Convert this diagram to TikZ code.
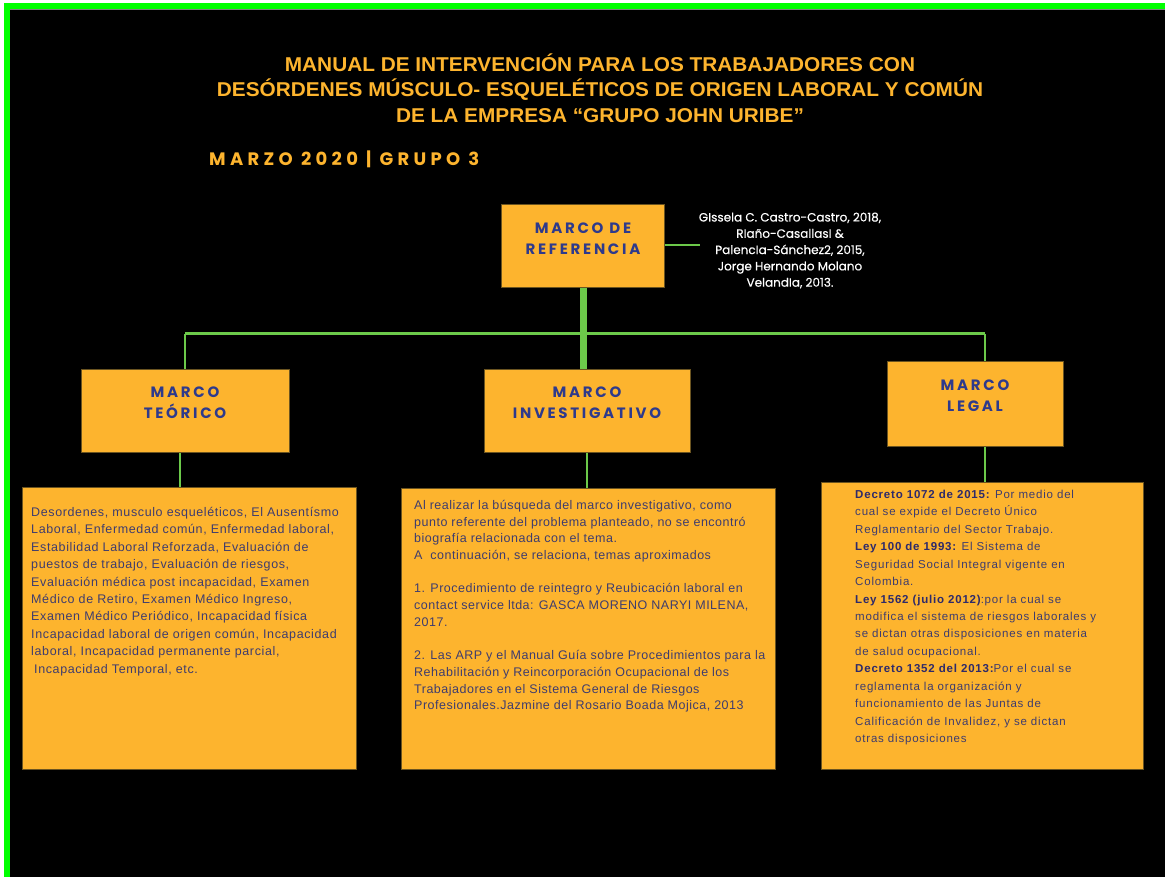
\documentclass[tikz,border=0pt]{standalone}
\usepackage{fontspec}
\setmainfont{Liberation Sans}
\newfontfamily\titlefont{Liberation Sans}[FakeStretch=1.04]
\newfontfamily\headfont{Poppins}[LetterSpace=18]
\newfontfamily\datefont{Poppins}[LetterSpace=24]
\newfontfamily\citefont{Poppins}[FakeBold=0.4]
\newfontfamily\bodyfont{Liberation Sans}[LetterSpace=5]
\newfontfamily\midfont{Liberation Sans}[LetterSpace=4]
\newfontfamily\legfont{Liberation Sans}[LetterSpace=7]
\definecolor{bgorange}{HTML}{FDB42E}
\definecolor{navy}{HTML}{2E3A8C}
\definecolor{bodytext}{HTML}{3E3C6E}
\definecolor{boldtext}{HTML}{2E2A6A}
\definecolor{linegreen}{HTML}{6CC94A}
\definecolor{brightgreen}{HTML}{00FF00}
\definecolor{boxedge}{HTML}{6B5420}
\tikzset{
  box/.style={draw=boxedge, line width=0.8pt, fill=bgorange, anchor=north west, inner sep=0pt},
  head/.style={font=\headfont\bfseries\fontsize{15}{21}\selectfont, text=navy, align=center, inner sep=0pt},
  body/.style={text=bodytext, align=left, anchor=north west, inner sep=0pt},
  conn/.style={draw=linegreen, line width=2.5pt},
}
\begin{document}
\begin{tikzpicture}[x=1pt,y=-1pt]
\useasboundingbox (0,0) rectangle (1165,877);
\fill[white] (0,0) rectangle (1165,877);
\fill[brightgreen] (4,3) rectangle (1165,877);
\fill[black] (10,9) rectangle (1165,877);
\draw[gray, line width=0.8pt] (10,9.2) -- (1165,9.2);
% title
\node[font=\titlefont\bfseries\fontsize{20}{25.5}\selectfont, text=bgorange, align=center, inner sep=0pt] (title) at (600,88)
 {MANUAL DE INTERVENCIÓN PARA LOS TRABAJADORES CON\\
  DESÓRDENES MÚSCULO- ESQUELÉTICOS DE ORIGEN LABORAL Y COMÚN\\
  DE LA EMPRESA “GRUPO JOHN URIBE”};
\node[font=\datefont\bfseries\fontsize{18}{20}\selectfont, text=bgorange, anchor=west, inner sep=0pt] (date) at (209,159) {MARZO 2020 | GRUPO 3};
% boxes
\node[box, minimum width=163pt, minimum height=83pt] (ref) at (501,204) {};
\node[head] (reflab) at (583,238.5) {MARCO DE\\REFERENCIA};
\node[box, minimum width=208pt, minimum height=83pt] (teo) at (81,369) {};
\node[head] (teolab) at (185,402.5) {MARCO\\TEÓRICO};
\node[box, minimum width=206pt, minimum height=83pt] (inv) at (484,369) {};
\node[head] (invlab) at (587,402.5) {MARCO\\INVESTIGATIVO};
\node[box, minimum width=176pt, minimum height=85pt] (leg) at (887,361) {};
\node[head] (leglab) at (975,395.5) {MARCO\\LEGAL};
% citation
\coordinate (citeend) at (700,245);
\node[font=\citefont\fontsize{12}{16.3}\selectfont, text=white, align=center, inner sep=0pt] (cite) at (790,250.5)
 {GIssela C. Castro-Castro, 2018,\\RIaño-CasallasI \&\\PalencIa-Sánchez2, 2015,\\Jorge Hernando Molano\\VelandIa, 2013.};
% bottom boxes
\node[box, minimum width=334pt, minimum height=282pt] (teob) at (22,487) {};
\node[box, minimum width=374pt, minimum height=281pt] (invb) at (401,488) {};
\node[box, minimum width=322pt, minimum height=287pt] (legb) at (821,482) {};
\node[body, font=\bodyfont\fontsize{12.5}{17.4}\selectfont] (teotxt) at (31,507) {Desordenes, musculo esqueléticos, El Ausentísmo\\
Laboral, Enfermedad común, Enfermedad laboral,\\
Estabilidad Laboral Reforzada, Evaluación de\\
puestos de trabajo, Evaluación de riesgos,\\
Evaluación médica post incapacidad, Examen\\
Médico de Retiro, Examen Médico Ingreso,\\
Examen Médico Periódico, Incapacidad física\\
Incapacidad laboral de origen común, Incapacidad\\
laboral, Incapacidad permanente parcial,\\
\hspace*{3pt}Incapacidad Temporal, etc.};
\node[body, font=\midfont\fontsize{12.5}{16.7}\selectfont] (invtxt) at (414,500) {Al realizar la búsqueda del marco investigativo, como\\
punto referente del problema planteado, no se encontró\\
biografía relacionada con el tema.\\
A\ \ continuación, se relaciona, temas aproximados\\[16.7pt]
1. Procedimiento de reintegro y Reubicación laboral en\\
contact service ltda: GASCA MORENO NARYI MILENA,\\
2017.\\[16.7pt]
2. Las ARP y el Manual Guía sobre Procedimientos para la\\
Rehabilitación y Reincorporación Ocupacional de los\\
Trabajadores en el Sistema General de Riesgos\\
Profesionales.Jazmine del Rosario Boada Mojica, 2013};
\node[body, font=\legfont\fontsize{11.5}{17.43}\selectfont] (legtxt) at (855,490) {\textcolor{boldtext}{\bfseries Decreto 1072 de 2015:} Por medio del\\
cual se expide el Decreto Único\\
Reglamentario del Sector Trabajo.\\
\textcolor{boldtext}{\bfseries Ley 100 de 1993:} El Sistema de\\
Seguridad Social Integral vigente en\\
Colombia.\\
\textcolor{boldtext}{\bfseries Ley 1562 (julio 2012)}:por la cual se\\
modifica el sistema de riesgos laborales y\\
se dictan otras disposiciones en materia\\
de salud ocupacional.\\
\textcolor{boldtext}{\bfseries Decreto 1352 del 2013:}Por el cual se\\
reglamenta la organización y\\
funcionamiento de las Juntas de\\
Calificación de Invalidez, y se dictan\\
otras disposiciones};
% connectors
\draw[conn] (ref.east |- 0,245) -- (citeend);
\coordinate (hubL) at (185,334);
\coordinate (hubR) at (985,334);
\draw[conn, line width=3pt] (hubL) -- (hubR);
\draw[conn, line width=2pt] (hubL) -- (hubL |- teo.north);
\draw[conn, line width=2pt] (hubR) -- (hubR |- leg.north);
\draw[conn, line width=7pt] (ref.south -| 583,0) -- (583,0 |- inv.north);
\draw[conn, line width=2pt] (teo.south -| 180,0) -- (180,0 |- teob.north);
\draw[conn, line width=2pt] (inv.south -| 587,0) -- (587,0 |- invb.north);
\draw[conn, line width=2pt] (leg.south -| 985,0) -- (985,0 |- legb.north);
\end{tikzpicture}
\end{document}
